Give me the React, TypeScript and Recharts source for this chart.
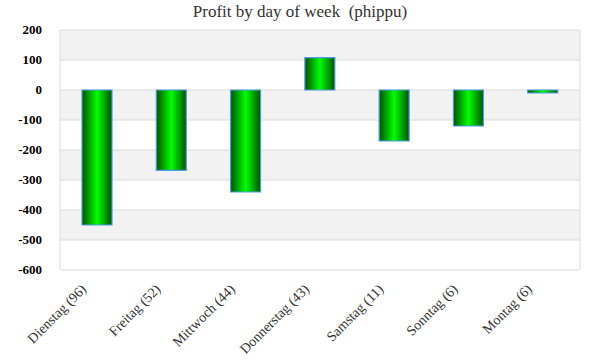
import { BarChart, Bar, XAxis, YAxis, CartesianGrid } from 'recharts';

const days = ['Dienstag', 'Freitag', 'Mittwoch', 'Donnerstag', 'Samstag', 'Sonntag', 'Montag'];
const counts = [96, 52, 44, 43, 11, 6, 6];
const profit = [-450, -268, -340, 108, -170, -120, -10];
const yTicks = [200, 100, 0, -100, -200, -300, -400, -500, -600];

const data = days.map((d, i) => ({ label: `${d} (${counts[i]})`, profit: profit[i] }));

const font = '"Liberation Serif", "DejaVu Serif", serif';

const DayTick = ({ x, y, payload }: any) => (
  <text
    x={x - 10}
    y={y + 12}
    transform={`rotate(-45, ${x - 10}, ${y + 12})`}
    textAnchor="end"
    fontFamily={font}
    fontSize={14}
    fill="#333"
  >
    {payload.value}
  </text>
);

const ValueTick = ({ x, y, payload }: any) => (
  <text x={x} y={y} dy={4} textAnchor="end" fontFamily={font} fontSize={13} fontWeight={600} fill="#000">
    {payload.value}
  </text>
);

export default function App() {
  return (
    <div style={{ position: 'absolute', left: 0, top: 0, width: 600, height: 360, background: '#fff' }}>
      <div
        style={{
          position: 'absolute', top: 2, left: 0, width: 600, textAlign: 'center',
          fontFamily: font, fontSize: 17, color: '#333', whiteSpace: 'pre',
        }}
      >
        Profit by day of week  (phippu)
      </div>
      <BarChart width={600} height={360} data={data} margin={{ top: 30, right: 20, left: 0, bottom: 0 }}>
        <defs>
          <linearGradient id="barGrad" x1="0" y1="0" x2="1" y2="0">
            <stop offset="0%" stopColor="#005200" />
            <stop offset="50%" stopColor="#00ff00" />
            <stop offset="100%" stopColor="#005200" />
          </linearGradient>
        </defs>
        <CartesianGrid
          stroke="#dcdcdc"
          horizontalFill={['#f2f2f2', '#ffffff']}
          fillOpacity={1}
          verticalPoints={[60, 580]}
        />
        <XAxis
          dataKey="label"
          interval={0}
          height={90}
          tickLine={false}
          axisLine={false}
          tick={<DayTick />}
        />
        <YAxis
          width={60}
          domain={[-600, 200]}
          ticks={yTicks}
          interval={0}
          tickLine={false}
          axisLine={false}
          tickMargin={12}
          tick={<ValueTick />}
        />
        <Bar
          dataKey="profit"
          barSize={30}
          fill="url(#barGrad)"
          stroke="#4f9be8"
          strokeWidth={1.2}
          isAnimationActive={false}
        />
      </BarChart>
    </div>
  );
}
